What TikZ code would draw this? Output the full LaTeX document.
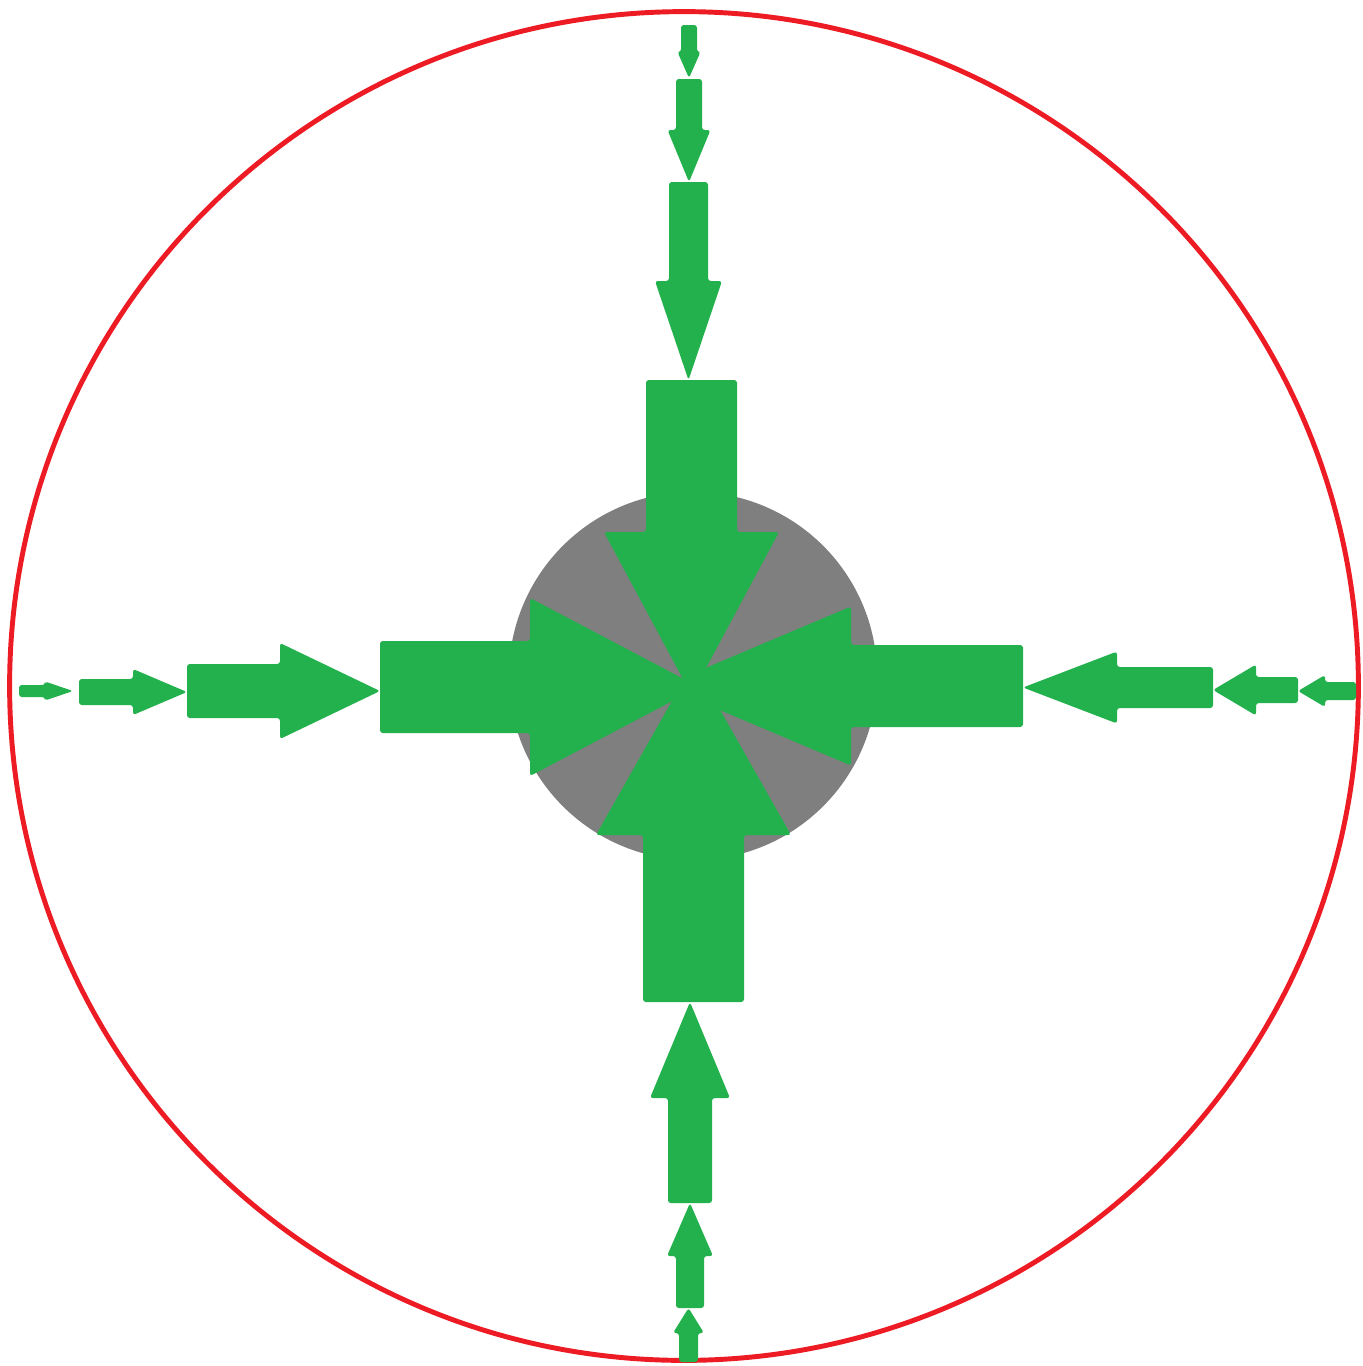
\documentclass[tikz,border=0pt]{standalone}
\usepackage{tikz}

\definecolor{arrowgreen}{HTML}{22B14C}
\definecolor{rimred}{HTML}{ED1C24}
\definecolor{coregray}{HTML}{7F7F7F}

\begin{document}
\begin{tikzpicture}[
  x=0.01cm,y=-0.01cm,
  flow/.style={fill=arrowgreen,rounded corners=0.8pt},
  rim/.style={draw=rimred,line width=1.4pt},
  core/.style={fill=coregray},
]
\useasboundingbox (0,0) rectangle (1363,1366);

% outer boundary and core
\draw[rim] (684,686) circle[radius=6.74cm];
\fill[core] (693,676) circle[radius=1.84cm];

% top column (pointing down): centre x / shaft start / head base / tip / shaft half width / head half width
\foreach \c/\s/\b/\t/\w/\h in {689/25/52/78/8/11.5, 689/79/130/182/13/21.5,
                               688.5/182/281/380/19.5/33.5, 691.5/380/532/695/45.5/87.5}
  \fill[flow] ({\c-\w},\s) -- ({\c+\w},\s) -- ({\c+\w},\b) -- ({\c+\h},\b) -- (\c,\t)
              -- ({\c-\h},\b) -- ({\c-\w},\b) -- cycle;

% bottom column (pointing up)
\foreach \c/\s/\b/\t/\w/\h in {688.5/1362/1333/1308/9.5/15.5, 690/1308/1256/1203/14/23,
                               690/1203/1098/1002/22/40, 693.5/1002/835/663/50.5/97.5}
  \fill[flow] ({\c-\w},\s) -- ({\c+\w},\s) -- ({\c+\w},\b) -- ({\c+\h},\b) -- (\c,\t)
              -- ({\c-\h},\b) -- ({\c-\w},\b) -- cycle;

% left row (pointing right)
\foreach \c/\s/\b/\t/\w/\h in {691/19/45/73/6/9.5, 692/79/133/187/13/23,
                               691/187/280/380/27/48, 687/380/530/699/46/89}
  \fill[flow] (\s,{\c-\w}) -- (\s,{\c+\w}) -- (\b,{\c+\w}) -- (\b,{\c+\h}) -- (\t,\c)
              -- (\b,{\c-\h}) -- (\b,{\c-\w}) -- cycle;

% right row (pointing left)
\foreach \c/\s/\b/\t/\w/\h in {691/1356/1325/1298/9/16, 690/1298/1256/1213/13/25.5,
                               687.5/1213/1117/1023/20.5/36, 686/1023/851/663/41/79.5}
  \fill[flow] (\s,{\c-\w}) -- (\s,{\c+\w}) -- (\b,{\c+\w}) -- (\b,{\c+\h}) -- (\t,\c)
              -- (\b,{\c-\h}) -- (\b,{\c-\w}) -- cycle;
\end{tikzpicture}
\end{document}
